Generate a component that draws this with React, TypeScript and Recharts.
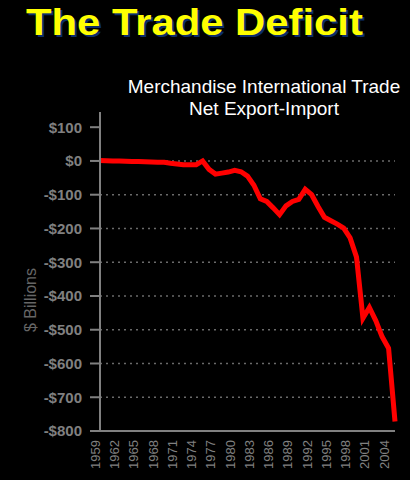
import { LineChart, Line, XAxis, YAxis, ReferenceLine } from "recharts";

const years = [
  1959, 1960, 1961, 1962, 1963, 1964, 1965, 1966, 1967, 1968,
  1969, 1970, 1971, 1972, 1973, 1974, 1975, 1976, 1977, 1978,
  1979, 1980, 1981, 1982, 1983, 1984, 1985, 1986, 1987, 1988,
  1989, 1990, 1991, 1992, 1993, 1994, 1995, 1996, 1997, 1998,
  1999, 2000, 2001, 2002, 2003, 2004, 2005,
];

// net export-import, $ billions
const balance = [
  1, 0.5, 0, -0.5, -1, -1.5, -2, -2.5, -3, -3.5,
  -4, -7, -9, -11, -11, -11, 0, -25, -39, -36,
  -33, -28, -32, -45, -72, -112, -120, -139, -159, -133,
  -120, -114, -84, -100, -135, -167, -177, -187, -199, -228,
  -285, -466, -434, -473, -521, -555, -772,
];

const yearTicks = [
  1959, 1962, 1965, 1968, 1971, 1974, 1977, 1980, 1983,
  1986, 1989, 1992, 1995, 1998, 2001, 2004,
];
const valueTicks = [100, 0, -100, -200, -300, -400, -500, -600, -700, -800];
const gridValues = [0, -100, -200, -300, -400, -500, -600, -700];

const data = years.map((year, i) => ({ year, value: balance[i] }));

const FONT = "'Liberation Sans', Arial, sans-serif";
const GRAY = "#808080";

const fmtDollar = (v: number) => (v < 0 ? `-$${-v}` : `$${v}`);

function YearTick({ x, y, payload }: any) {
  const ty = y + 1;
  return (
    <text
      x={x}
      y={ty}
      transform={`rotate(-90 ${x} ${ty})`}
      textAnchor="end"
      fill={GRAY}
      fontSize={13}
      fontFamily={FONT}
    >
      {payload.value}
    </text>
  );
}

function ValueTick({ x, y, payload }: any) {
  return (
    <text
      x={x}
      y={y}
      dy="0.36em"
      textAnchor="end"
      fill={GRAY}
      fontSize={15}
      fontWeight="bold"
      fontFamily={FONT}
    >
      {fmtDollar(payload.value)}
    </text>
  );
}

export default function App() {
  return (
    <div
      style={{
        position: "absolute",
        left: 0,
        top: 0,
        width: 410,
        height: 480,
        background: "#000",
        overflow: "hidden",
      }}
    >
      {/* title, stretched a bit wider like the original slide */}
      <div
        style={{
          position: "absolute",
          left: 26,
          top: 4,
          fontFamily: FONT,
          fontSize: 37,
          lineHeight: "37px",
          fontWeight: "bold",
          color: "#ffff00",
          whiteSpace: "nowrap",
          textShadow: "2px 2px 0 #0b2d6b",
          transform: "scaleX(1.13)",
          transformOrigin: "0 0",
        }}
      >
        The Trade Deficit
      </div>
      <svg
        width={410}
        height={480}
        style={{ position: "absolute", left: 0, top: 0 }}
      >
        <text
          x={264}
          y={93}
          fill="#fff"
          fontSize={19}
          textAnchor="middle"
          fontFamily={FONT}
        >
          Merchandise International Trade
        </text>
        <text
          x={264}
          y={115}
          fill="#fff"
          fontSize={19}
          textAnchor="middle"
          fontFamily={FONT}
        >
          Net Export-Import
        </text>
        <text
          x={36}
          y={300}
          transform="rotate(-90 36 300)"
          fill="#666"
          fontSize={16}
          textAnchor="middle"
          fontFamily={FONT}
        >
          $ Billions
        </text>
      </svg>
      <div style={{ position: "absolute", left: 0, top: 0 }}>
        <LineChart
          width={410}
          height={480}
          data={data}
          margin={{ top: 112, right: 15, bottom: 4, left: 0 }}
        >
          {gridValues.map((v) => (
            <ReferenceLine
              key={v}
              y={v}
              stroke="#6a6a6a"
              strokeWidth={1.5}
              strokeDasharray="2 4"
            />
          ))}
          <XAxis
            dataKey="year"
            type="number"
            domain={[1959, 2005]}
            ticks={yearTicks}
            interval={0}
            height={45}
            tickLine={false}
            tickSize={6}
            axisLine={{ stroke: GRAY, strokeWidth: 2 }}
            tick={<YearTick />}
          />
          <YAxis
            type="number"
            domain={[-800, 145]}
            ticks={valueTicks}
            interval={0}
            width={100}
            tickSize={10}
            tickMargin={8}
            tickLine={{ stroke: GRAY, strokeWidth: 2 }}
            axisLine={{ stroke: GRAY, strokeWidth: 2 }}
            tick={<ValueTick />}
          />
          <Line
            type="linear"
            dataKey="value"
            stroke="#ff0000"
            strokeWidth={5}
            dot={false}
            isAnimationActive={false}
          />
        </LineChart>
      </div>
    </div>
  );
}
